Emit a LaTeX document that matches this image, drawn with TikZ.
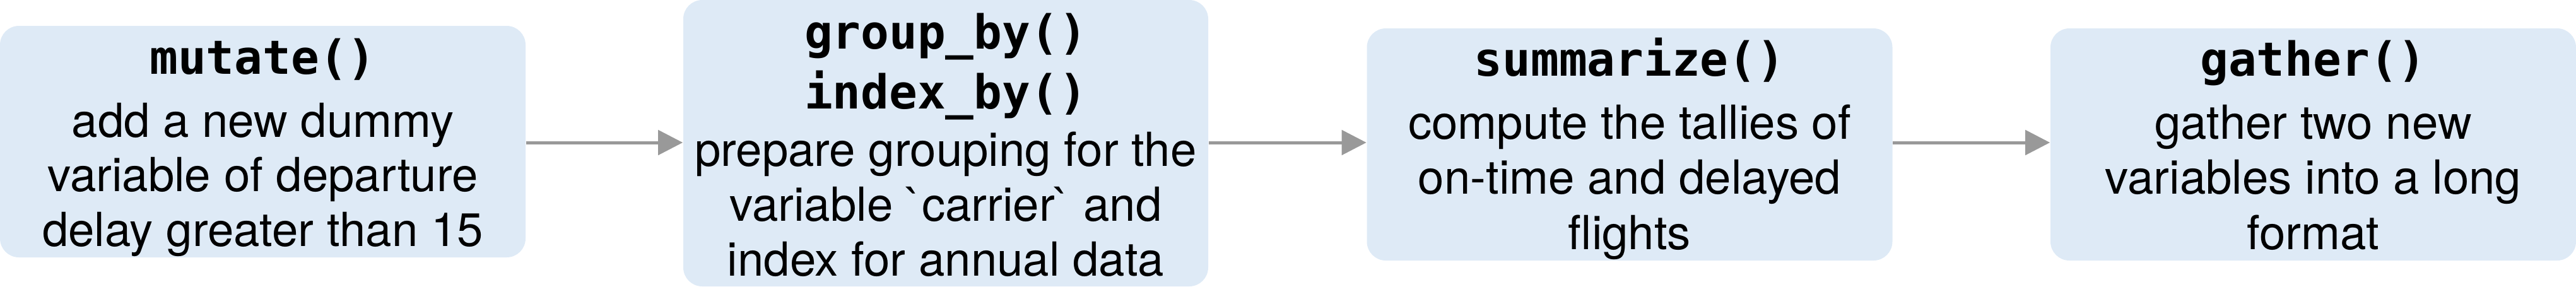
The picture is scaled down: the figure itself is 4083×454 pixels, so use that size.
\documentclass[tikz,border=0pt]{standalone}
\usepackage{fontspec}
\setmainfont{TeX Gyre Heros}[Ligatures=TeXOff]
\setmonofont{DejaVu Sans Mono}
\usetikzlibrary{arrows.meta}
\definecolor{boxblue}{HTML}{DEEAF6}
\definecolor{arrgray}{HTML}{999999}
\begin{document}
\begin{tikzpicture}[x=0.25pt,y=-0.25pt,
  stepbox/.style={fill=boxblue, draw=none, rounded corners=7.5pt, inner sep=0pt, minimum width=208.25pt},
  ttl/.style={font=\fontsize{18.6}{21.75}\selectfont\ttfamily\bfseries, anchor=base, inner sep=0pt},
  txt/.style={font=\fontsize{18.6}{21.75}\selectfont, anchor=base, inner sep=0pt},
  conn/.style={draw=arrgray, line width=1.25pt, -{Triangle[length=9.75pt,width=9.75pt]}}]
\useasboundingbox (0,0) rectangle (4083,454);
% boxes
\node[stepbox, minimum height=91.75pt] (b1) at (416.5,224.5) {};
\node[stepbox, minimum height=113.5pt, minimum width=208pt] (b2) at (1499,227) {};
\node[stepbox, minimum height=92pt] (b3) at (2583,229) {};
\node[stepbox, minimum height=92pt] (b4) at (3666.5,229) {};
% box 1 text
\node[ttl] (t1) at (416.5,117) {mutate()};
\node[txt] (l11) at (416.5,217) {add a new dummy};
\node[txt] (l12) at (416.5,303) {variable of departure};
\node[txt] (l13) at (416.5,390) {delay greater than 15};
% box 2 text
\node[ttl] (t2a) at (1499,77) {group\_by()};
\node[ttl] (t2b) at (1499,172) {index\_by()};
\node[txt] (l21) at (1499,263) {prepare grouping for the};
\node[txt] (l22) at (1499,350) {variable `carrier` and};
\node[txt] (l23) at (1499,437) {index for annual data};
% box 3 text
\node[ttl] (t3) at (2583,120) {summarize()};
\node[txt] (l31) at (2583,220) {compute the tallies of};
\node[txt] (l32) at (2583,307) {on-time and delayed};
\node[txt] (l33) at (2583,395) {flights};
% box 4 text
\node[ttl] (t4) at (3666.5,120) {gather()};
\node[txt] (l41) at (3666.5,220) {gather two new};
\node[txt] (l42) at (3666.5,307) {variables into a long};
\node[txt] (l43) at (3666.5,395) {format};
% connectors
\coordinate (yl) at (0,226);
\draw[conn] (b1.east |- yl) -- (b2.west |- yl);
\draw[conn] (b2.east |- yl) -- (b3.west |- yl);
\draw[conn] (b3.east |- yl) -- (b4.west |- yl);
\end{tikzpicture}
\end{document}
